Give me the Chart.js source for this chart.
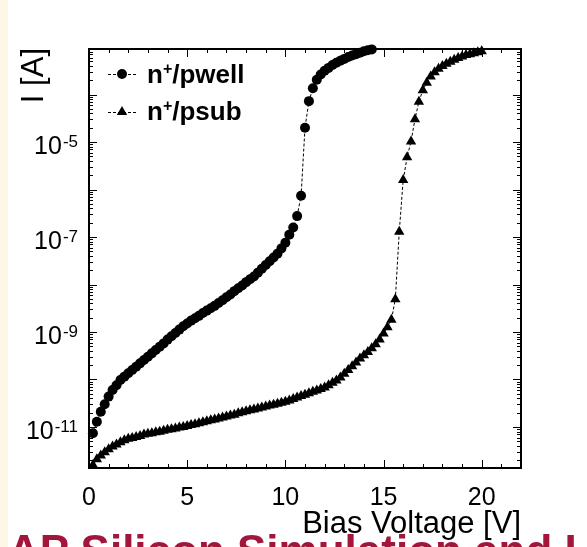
<!DOCTYPE html>
<html>
<head>
<meta charset="utf-8">
<script src="https://cdn.jsdelivr.net/npm/chart.js@4.4.1/dist/chart.umd.min.js"></script>
<style>
  html, body { margin:0; padding:0; background:#fff; }
  body { width:587px; height:547px; position:relative; overflow:hidden; font-family:"Liberation Sans", Arial, sans-serif; }
  #strip { position:absolute; left:0; top:0; width:8px; height:547px; background:#fdf8e6; }
  #chart { position:absolute; left:0; top:0; }
  #banner { position:absolute; left:8px; top:529px; font-size:44px; font-weight:bold; line-height:1; color:#a3153a; white-space:nowrap; }
</style>
</head>
<body>
<div id="strip"></div>
<canvas id="chart" width="587" height="547"></canvas>
<div id="banner">AP Silicon Simulation and I</div>
<script>

// bias voltage [V] and log10 of current [A]
const voltPwell = [
   0.2, 0.4, 0.6, 0.8, 1.0, 1.2, 1.4, 1.6, 1.8, 2.0,
   2.2, 2.4, 2.6, 2.8, 3.0, 3.2, 3.4, 3.6, 3.8, 4.0,
   4.2, 4.4, 4.6, 4.8, 5.0, 5.2, 5.4, 5.6, 5.8, 6.0,
   6.2, 6.4, 6.6, 6.8, 7.0, 7.2, 7.4, 7.6, 7.8, 8.0,
   8.2, 8.4, 8.6, 8.8, 9.0, 9.2, 9.4, 9.6, 9.8, 10.0,
   10.2, 10.4, 10.6, 10.8, 11.0, 11.2, 11.4, 11.6, 11.8, 12.0,
   12.2, 12.4, 12.6, 12.8, 13.0, 13.2, 13.4, 13.6, 13.8, 14.0,
   14.2, 14.4
]
const pwellLogI = [
   -11.13, -10.89, -10.68, -10.52, -10.36, -10.22, -10.12, -10.01, -9.94, -9.87,
   -9.80, -9.73, -9.66, -9.59, -9.52, -9.45, -9.38, -9.31, -9.24, -9.16,
   -9.09, -9.02, -8.95, -8.88, -8.82, -8.76, -8.71, -8.66, -8.60, -8.55,
   -8.50, -8.45, -8.39, -8.33, -8.27, -8.21, -8.14, -8.08, -8.02, -7.95,
   -7.89, -7.83, -7.75, -7.67, -7.59, -7.51, -7.43, -7.35, -7.24, -7.12,
   -6.95, -6.80, -6.56, -6.13, -4.70, -4.14, -3.87, -3.69, -3.58, -3.50,
   -3.44, -3.38, -3.33, -3.29, -3.25, -3.21, -3.18, -3.15, -3.12, -3.09,
   -3.07, -3.05
]

const voltPsub = [
   0.2, 0.4, 0.6, 0.8, 1.0, 1.2, 1.4, 1.6, 1.8, 2.0,
   2.2, 2.4, 2.6, 2.8, 3.0, 3.2, 3.4, 3.6, 3.8, 4.0,
   4.2, 4.4, 4.6, 4.8, 5.0, 5.2, 5.4, 5.6, 5.8, 6.0,
   6.2, 6.4, 6.6, 6.8, 7.0, 7.2, 7.4, 7.6, 7.8, 8.0,
   8.2, 8.4, 8.6, 8.8, 9.0, 9.2, 9.4, 9.6, 9.8, 10.0,
   10.2, 10.4, 10.6, 10.8, 11.0, 11.2, 11.4, 11.6, 11.8, 12.0,
   12.2, 12.4, 12.6, 12.8, 13.0, 13.2, 13.4, 13.6, 13.8, 14.0,
   14.2, 14.4, 14.6, 14.8, 15.0, 15.2, 15.4, 15.6, 15.8, 16.0,
   16.2, 16.4, 16.6, 16.8, 17.0, 17.2, 17.4, 17.6, 17.8, 18.0,
   18.2, 18.4, 18.6, 18.8, 19.0, 19.2, 19.4, 19.6, 19.8, 20.0
]
const psubLogI = [
   -11.80, -11.68, -11.60, -11.53, -11.47, -11.41, -11.37, -11.32, -11.28, -11.25,
   -11.23, -11.21, -11.19, -11.16, -11.14, -11.13, -11.11, -11.10, -11.08, -11.06,
   -11.05, -11.03, -11.01, -11.00, -10.98, -10.96, -10.94, -10.92, -10.90, -10.88,
   -10.86, -10.84, -10.82, -10.80, -10.78, -10.76, -10.74, -10.71, -10.69, -10.67,
   -10.65, -10.63, -10.61, -10.59, -10.57, -10.55, -10.53, -10.51, -10.49, -10.47,
   -10.44, -10.41, -10.38, -10.35, -10.32, -10.29, -10.26, -10.23, -10.20, -10.17,
   -10.12, -10.07, -10.02, -9.96, -9.88, -9.80, -9.72, -9.64, -9.56, -9.49,
   -9.42, -9.34, -9.26, -9.16, -9.03, -8.90, -8.74, -8.31, -6.89, -5.80,
   -5.32, -4.99, -4.52, -4.15, -3.91, -3.75, -3.62, -3.53, -3.46, -3.40,
   -3.35, -3.31, -3.27, -3.23, -3.20, -3.17, -3.15, -3.13, -3.11, -3.09
]

const xTickLabels = [0, 5, 10, 15, 20]
const yLabelExps  = [-11, -9, -7, -5]
const seriesNames = ['pwell', 'psub']

const FONT = '"Liberation Sans", Arial, Helvetica, sans-serif'


function toPoints(volts, logs){
      return volts.map((v, i) => ({ x: v, y: Math.pow(10, logs[i]) }))
}

function series(volts, logs, style, radius){
      return {
            data: toPoints(volts, logs),
            borderColor: '#000',
            borderWidth: 1,
            borderDash: [3, 2],
            backgroundColor: '#000',
            pointStyle: style,
            pointRadius: radius,
            pointHoverRadius: radius,
            pointBackgroundColor: '#000',
            pointBorderColor: '#000',
            pointBorderWidth: 0,
            tension: 0,
            fill: false,
            clip: false
      }
}


// ROOT-like frame: inward ticks on all 4 sides, superscript labels, legend, y title
const rootFrame = {
      id: 'rootFrame',

      beforeDatasetsDraw(chart){
            const { ctx, chartArea: a, scales: { x, y } } = chart
            ctx.save()
            ctx.strokeStyle = '#000'
            ctx.lineWidth = 1
            ctx.beginPath()
            x.ticks.forEach(t => {
                  const px = Math.round(x.getPixelForValue(t.value)) + 0.5
                  const len = t.value % 5 === 0 ? 8 : 4
                  ctx.moveTo(px, a.bottom); ctx.lineTo(px, a.bottom - len)
                  ctx.moveTo(px, a.top);    ctx.lineTo(px, a.top + len)
            })
            y.ticks.forEach(t => {
                  const py = Math.round(y.getPixelForValue(t.value)) + 0.5
                  const len = t.major ? 8 : 4
                  ctx.moveTo(a.left, py);  ctx.lineTo(a.left + len, py)
                  ctx.moveTo(a.right, py); ctx.lineTo(a.right - len, py)
            })
            ctx.stroke()

            ctx.lineWidth = 2
            ctx.strokeRect(a.left, a.top, a.right - a.left, a.bottom - a.top)

            // y labels 10^n
            ctx.fillStyle = '#000'
            ctx.textAlign = 'right'
            ctx.textBaseline = 'alphabetic'
            yLabelExps.forEach(e => {
                  const py = y.getPixelForValue(Math.pow(10, e))
                  const sup = String(e)
                  ctx.font = '17px ' + FONT
                  const w = ctx.measureText(sup).width
                  ctx.fillText(sup, a.left - 11, py + 5)
                  ctx.font = '25px ' + FONT
                  ctx.fillText('10', a.left - 12 - w, py + 12)
            })

            // y title
            ctx.save()
            ctx.translate(43, a.top - 1)
            ctx.rotate(-Math.PI / 2)
            ctx.font = '31px ' + FONT
            ctx.textAlign = 'right'
            ctx.fillText('I [A]', 0, 0)
            ctx.restore()

            ctx.restore()
      },

      afterDatasetsDraw(chart){
            const { ctx } = chart
            const rows = [ { y: 74, base: 83 }, { y: 112, base: 120 } ]
            ctx.save()
            rows.forEach((r, i) => {
                  const ds = chart.data.datasets[i]
                  ctx.strokeStyle = '#000'
                  ctx.lineWidth = 1
                  ctx.setLineDash([3, 2])
                  ctx.beginPath()
                  ctx.moveTo(108, r.y + 0.5); ctx.lineTo(136, r.y + 0.5)
                  ctx.stroke()
                  ctx.setLineDash([])
                  ctx.fillStyle = '#000'
                  Chart.helpers.drawPoint(ctx, { pointStyle: ds.pointStyle, radius: ds.pointRadius, borderWidth: 0, rotation: 0 }, 122, r.y)

                  let cx = 147
                  ctx.textAlign = 'left'
                  ctx.textBaseline = 'alphabetic'
                  ctx.font = 'bold 26px ' + FONT
                  ctx.fillText('n', cx, r.base)
                  cx += ctx.measureText('n').width
                  ctx.font = 'bold 16px ' + FONT
                  ctx.fillText('+', cx, r.base - 9)
                  cx += ctx.measureText('+').width
                  ctx.font = 'bold 26px ' + FONT
                  ctx.fillText('/' + seriesNames[i], cx, r.base)
            })
            ctx.restore()
      }
}


const setup = {
      type: 'line',
      data: {
            datasets: [
                  series(voltPwell, pwellLogI, 'circle', 5),
                  series(voltPsub, psubLogI, 'triangle', 6)
            ]
      },
      options: {
            responsive: false,
            animation: false,
            events: [],
            layout: { padding: { left: 89, right: 66, top: 49, bottom: 0 } },
            plugins: {
                  legend: { display: false },
                  tooltip: { enabled: false }
            },
            scales: {
                  x: {
                        type: 'linear',
                        min: 0,
                        max: 22,
                        grid: { display: false },
                        border: { display: false },
                        ticks: {
                              stepSize: 1,
                              autoSkip: false,
                              maxRotation: 0,
                              padding: 7,
                              color: '#000',
                              font: { family: FONT, size: 25 },
                              callback: v => xTickLabels.includes(v) ? String(v) : ''
                        },
                        title: {
                              display: true,
                              text: 'Bias Voltage [V]',
                              align: 'end',
                              color: '#000',
                              font: { family: FONT, size: 31 },
                              padding: { top: 0, bottom: 4 }
                        },
                        afterFit: s => { s.height = 79 }
                  },
                  y: {
                        type: 'logarithmic',
                        min: 1.37e-12,
                        max: 9.08e-4,
                        grid: { display: false },
                        border: { display: false },
                        ticks: { display: false },
                        afterBuildTicks: s => {
                              const ticks = []
                              for(let e = -12; e <= -3; e++){
                                    for(let m = 1; m <= 9; m++){
                                          const v = m * Math.pow(10, e)
                                          if(v >= s.min && v <= s.max){ ticks.push({ value: v, major: m === 1 }) }
                                    }
                              }
                              s.ticks = ticks
                        },
                        afterFit: s => { s.width = 0 }
                  }
            }
      },
      plugins: [rootFrame]
}

new Chart(document.getElementById('chart'), setup)

</script>
</body>
</html>
